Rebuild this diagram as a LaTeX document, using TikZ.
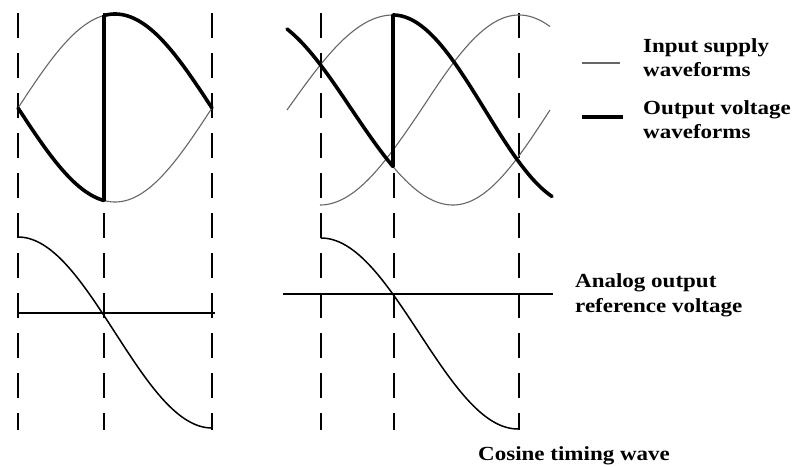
\documentclass[tikz,border=0pt]{standalone}
\usepackage{fontspec}
\newfontfamily\lab{Liberation Serif}[FakeStretch=1.15]
\begin{document}
\begin{tikzpicture}[x=1pt,y=-1pt,
  thinwave/.style={draw=black!60,line width=1.1pt},
  thickwave/.style={draw=black,line width=3.6pt},
  vbar/.style={draw=black,line width=3.6pt},
  dashv/.style={draw=black,line width=1.4pt,dash pattern=on 25pt off 15pt},
  refline/.style={draw=black,line width=2.2pt},
  coswave/.style={draw=black,line width=1.5pt},
  lbl/.style={anchor=base west,inner sep=0pt,font=\lab\bfseries\fontsize{20}{25}\selectfont}]
\useasboundingbox (0,0) rectangle (795,466);
% dashed time markers
\foreach \xx/\nm in {18/a,104/b,212/c,321/d,394/e,519/f}{
  \coordinate (top\nm) at (\xx,13);
  \coordinate (bot\nm) at (\xx,430);
  \draw[dashv] (top\nm) -- (bot\nm);
}
% ---------- left panel: supply waveforms ----------
\draw[thinwave] plot[domain=18:212,samples=80] (\x,{108-94*sin((\x-18)/194*180)});
\draw[thinwave] plot[domain=104:212,samples=60] (\x,{108+94*sin((\x-18)/194*180)});
\draw[thickwave,line cap=round] plot[domain=18:104,samples=60] (\x,{108+94*sin((\x-18)/194*180)});
\coordinate (lvb) at (104,{108+94*sin(86/194*180)});
\coordinate (lvt) at (104,{108-94*sin(86/194*180)});
\draw[vbar] (lvb) -- (lvt);
\draw[thickwave,line cap=round] plot[domain=104:212,samples=60] (\x,{108-94*sin((\x-18)/194*180)});
% ---------- right panel: supply waveforms ----------
% thin parts
\draw[thinwave] plot[domain=287:393,samples=60] (\x,{110-95*sin((\x-287)/106*90)});
\draw[thinwave] plot[domain=393:453,samples=40] (\x,{110+95*sin((\x-352)/101*90)});
\draw[thinwave] plot[domain=453:550,samples=50] (\x,{110+95*cos((\x-453)/97*90)});
\draw[thinwave] plot[domain=320:421,samples=50] (\x,{110+95*cos((\x-320)/101*90)});
\draw[thinwave] plot[domain=421:550,samples=60] (\x,{110-95*sin((\x-421)/98*90)});
% thick output parts
\draw[thickwave,line cap=round] plot[domain=287:352,samples=40] (\x,{110-95*cos((\x-252)/100*90)})
  -- plot[domain=352:393,samples=30] (\x,{110+95*sin((\x-352)/101*90)});
\coordinate (rvb) at (393,{110+95*sin(41/101*90)});
\coordinate (rvt) at (393,15);
\draw[vbar,line width=4.4pt] (rvb) -- (rvt);
\draw[thickwave,line cap=round] plot[domain=393:552,samples=80] (\x,{110-95*cos((\x-393)/92*90)});
% ---------- legend ----------
\coordinate (lg1a) at (582,63); \coordinate (lg1b) at (620,63);
\draw[thinwave] (lg1a) -- (lg1b);
\coordinate (lg2a) at (582,117); \coordinate (lg2b) at (623,117);
\draw[thickwave] (lg2a) -- (lg2b);
\node[lbl] (in1) at (643,52) {Input supply};
\node[lbl] (in2) at (643,76) {waveforms};
\node[lbl] (out1) at (643,114) {Output voltage};
\node[lbl] (out2) at (643,138) {waveforms};
% ---------- bottom: cosine timing waves ----------
\draw[coswave] plot[domain=18:212,samples=80] (\x,{332.5-95.5*cos((\x-18)/194*180)});
\coordinate (rl1) at (18,313); \coordinate (rl2) at (215,313);
\draw[refline] (rl1) -- (rl2);
\draw[coswave] plot[domain=321:518,samples=80] (\x,{333.5-95.5*cos((\x-321)/197*180)});
\coordinate (rr1) at (283,294); \coordinate (rr2) at (553,294);
\draw[refline] (rr1) -- (rr2);
\node[lbl] (an1) at (575,287) {Analog output};
\node[lbl] (an2) at (575,312) {reference voltage};
\node[lbl] (cos) at (478,460) {Cosine timing wave};
\end{tikzpicture}
\end{document}
